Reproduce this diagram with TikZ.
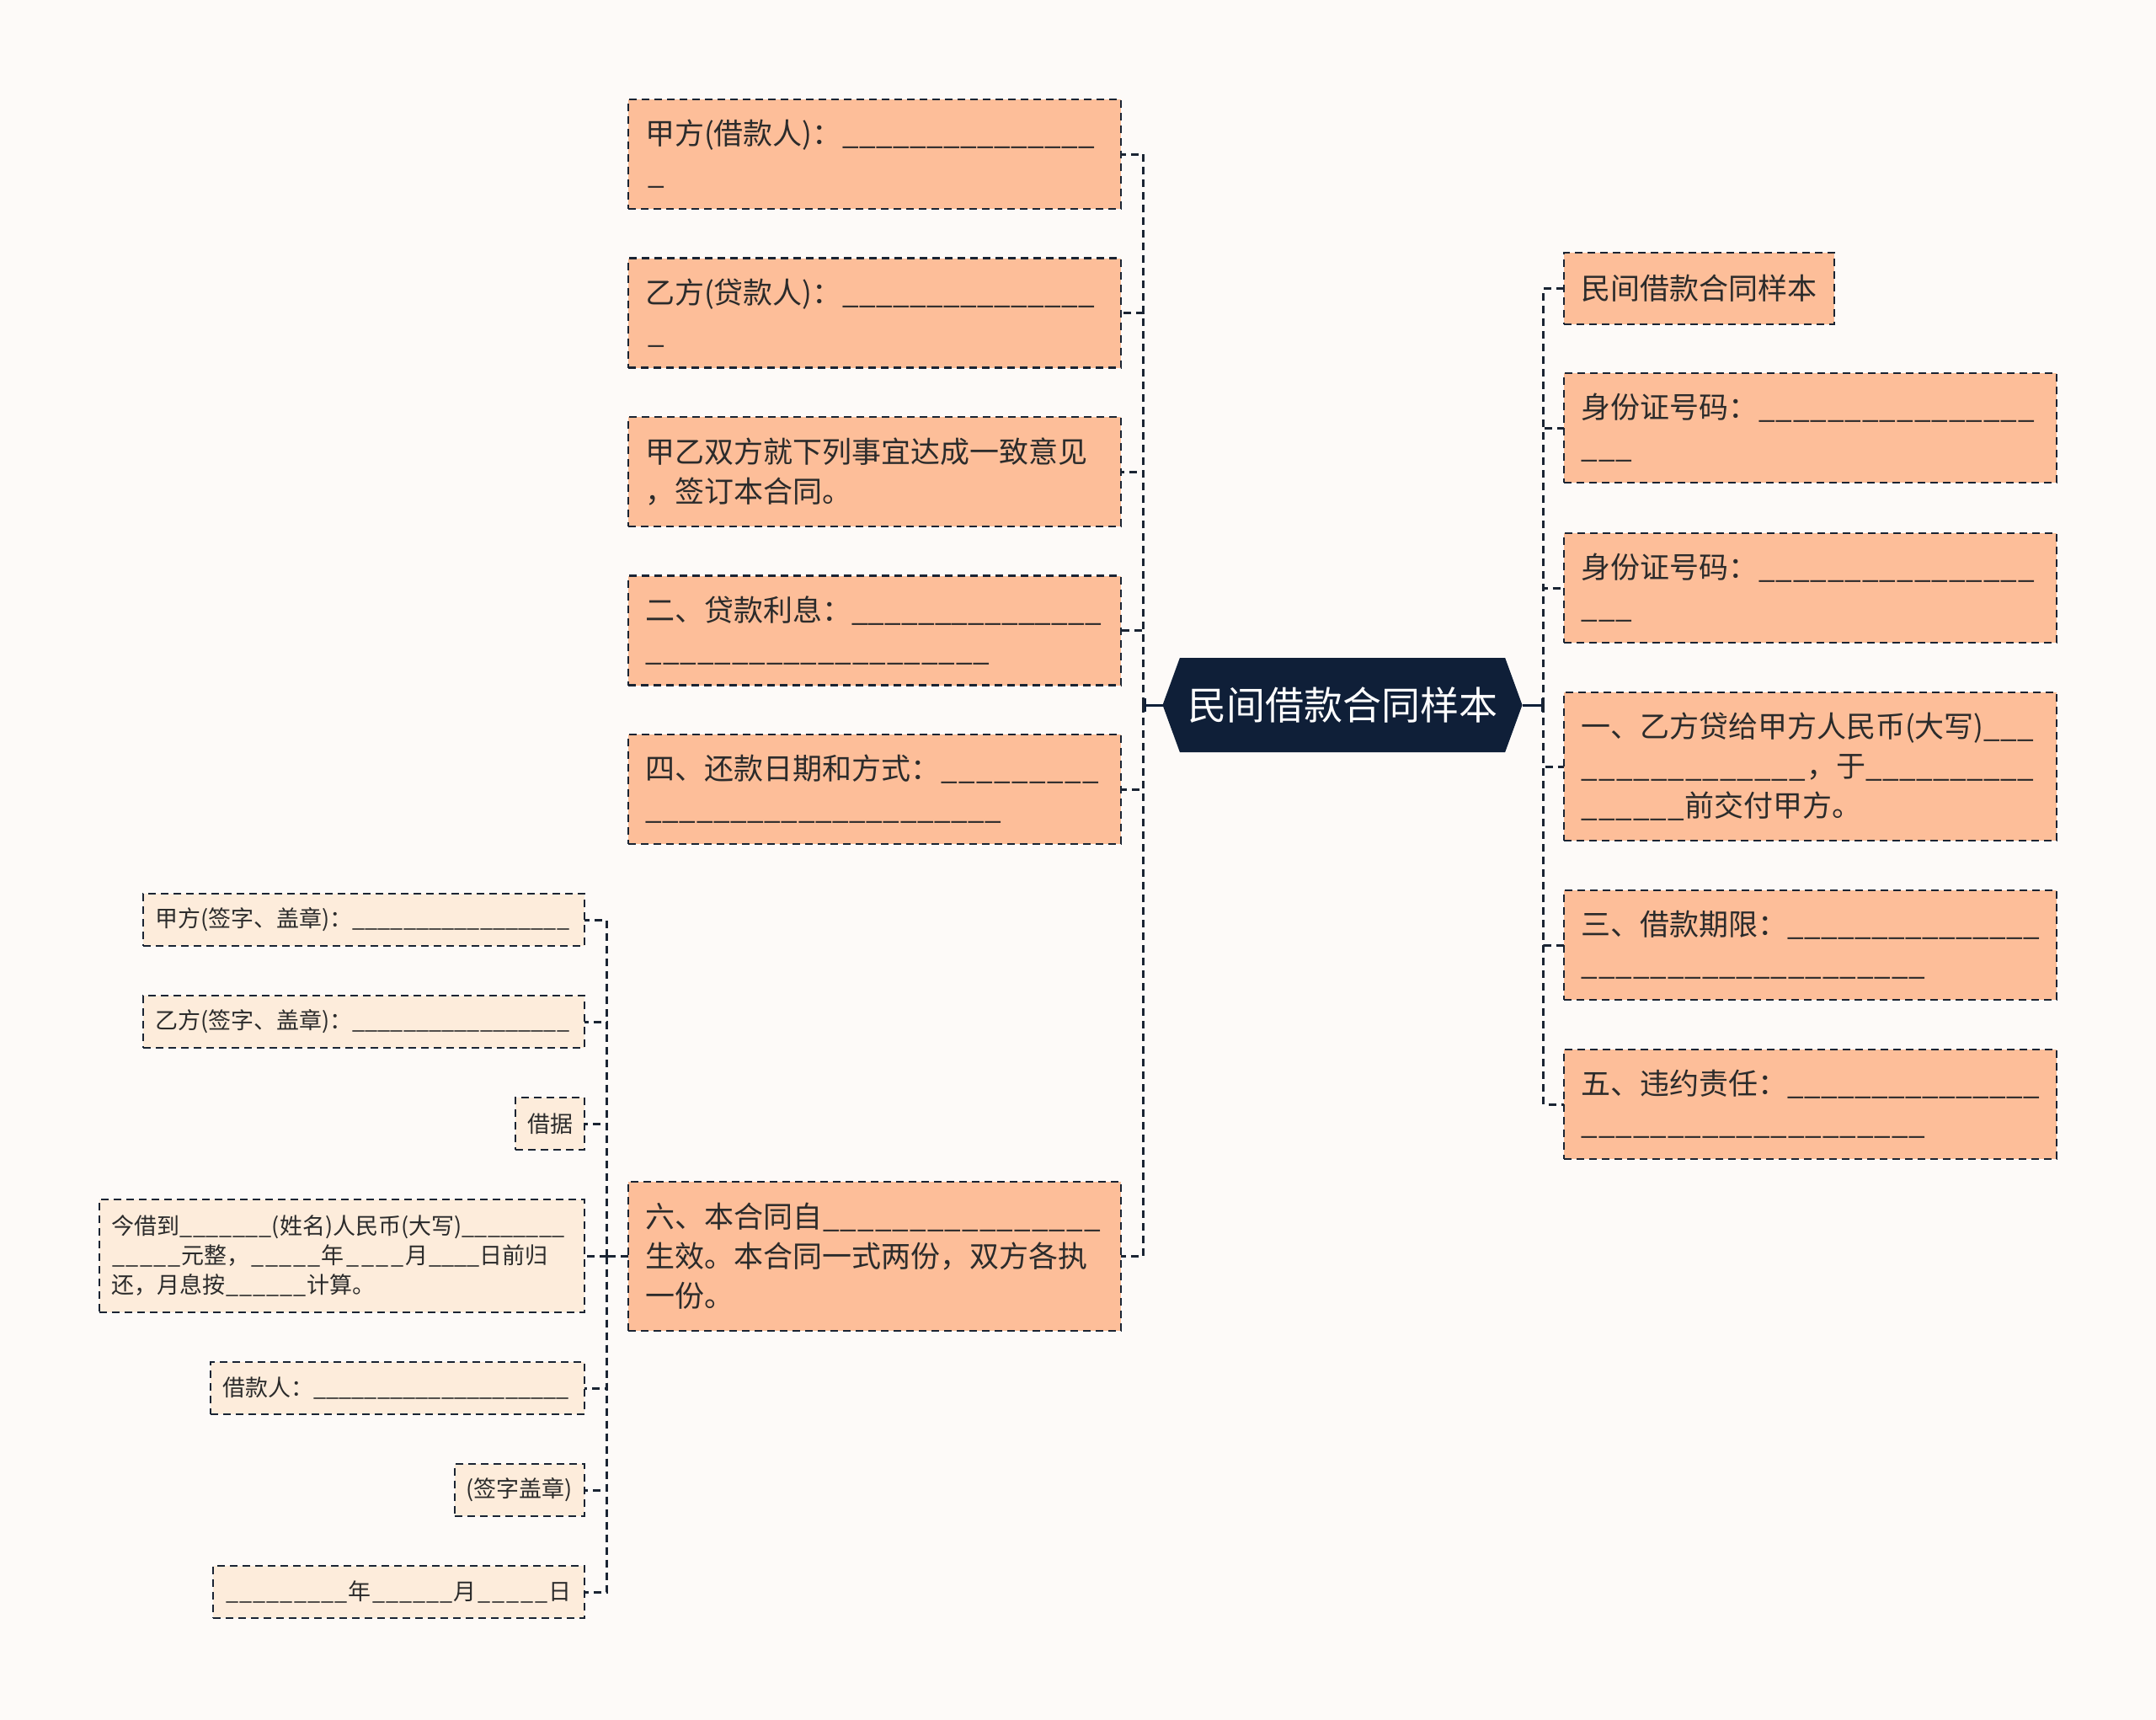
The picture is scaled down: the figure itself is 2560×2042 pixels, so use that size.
\documentclass[tikz,border=0pt]{standalone}
\usepackage{fontspec}
\setmainfont{Noto Sans CJK SC}
\usetikzlibrary{arrows.meta,positioning,shapes.symbols}
\definecolor{bgc}{HTML}{FDFAF8}
\definecolor{peach}{HTML}{FDBE99}
\definecolor{cream}{HTML}{FDECDB}
\definecolor{navy}{HTML}{0F1F38}
\definecolor{ink}{HTML}{1A2433}
\definecolor{txt}{HTML}{2B2B2B}
\newcommand{\blank}[1]{\leavevmode\hbox to #1pt{\xleaders\hbox{\_}\hfill}}

\begin{document}
\begin{tikzpicture}[x=1pt,y=-1pt,node distance=58.5pt, every node/.style={text=txt,outer sep=0pt},
 leaf/.style={draw=ink,line width=2.5pt,dash pattern=on 9pt off 6pt,fill=peach,align=left,text width=545pt,inner xsep=20pt,inner ysep=0pt,minimum height=130pt,font=\fontsize{35}{47}\selectfont},
 sub/.style={draw=ink,line width=2.5pt,dash pattern=on 9pt off 6pt,fill=cream,align=left,inner xsep=14pt,inner ysep=0pt,minimum height=62pt,font=\fontsize{27}{35}\selectfont},
 root/.style={signal,signal to=west and east,signal pointer angle=140,fill=navy,text=white,inner sep=0pt,minimum width=427pt,minimum height=112pt,font=\fontsize{46}{55}\selectfont},
 link/.style={draw=ink,line width=3pt,dash pattern=on 9pt off 6pt},
 stem/.style={draw=navy,line width=3pt,-{Bar[width=16pt,line width=3pt]}}]
\useasboundingbox (0,0) rectangle (2560,2042);
\fill[bgc] (0,0) rectangle (2560,2042);
% root
\node[root] (root) at (1594,837) {民间借款合同样本};
% left branch
\node[leaf,anchor=north west] (ja) at (746,118) {甲方(借款人)：\blank{301}\\\blank{27}};
\node[leaf,below=of ja] (yi) {乙方(贷款人)：\blank{301}\\\blank{27}};
\node[leaf,below=of yi] (both) {甲乙双方就下列事宜达成一致意见\\，签订本合同。};
\node[leaf,below=of both] (rate) {二、贷款利息：\blank{297}\\\blank{410}};
\node[leaf,below=of rate] (repay) {四、还款日期和方式：\blank{190}\\\blank{424}};
\node[leaf,anchor=north west,minimum height=177pt] (term) at (746,1403) {六、本合同自\blank{332}\\生效。本合同一式两份，双方各执\\一份。};
% right branch
\node[leaf,anchor=north west,text width=281pt,minimum height=85pt] (title) at (1857,300) {民间借款合同样本};
\node[leaf,below=58pt of title.south west,anchor=north west] (id1) {身份证号码：\blank{330}\\\blank{62}};
\node[leaf,below=60pt of id1] (id2) {身份证号码：\blank{330}\\\blank{62}};
\node[leaf,below=59pt of id2,minimum height=176pt] (sum) {一、乙方贷给甲方人民币(大写)\blank{60}\\\blank{268}，于\blank{200}\\\blank{124}前交付甲方。};
\node[leaf,below=59pt of sum] (period) {三、借款期限：\blank{301}\\\blank{410}};
\node[leaf,below=59pt of period] (breach) {五、违约责任：\blank{301}\\\blank{410}};
% signatures under term
\node[sub,anchor=north east,text width=496pt] (sa) at (694,1061) {甲方(签字、盖章)：\blank{258}};
\node[sub,below=59pt of sa.south east,anchor=north east,text width=496pt] (sb) {乙方(签字、盖章)：\blank{258}};
\node[sub,below=59pt of sb.south east,anchor=north east] (note) {借据};
\node[sub,below=59pt of note.south east,anchor=north east,text width=548pt,minimum height=134pt] (iou) {今借到\blank{110}(姓名)人民币(大写)\blank{122}\\\blank{84}元整，\blank{85}年\blank{73}月\blank{61}日前归\\还，月息按\blank{98}计算。};
\node[sub,below=59pt of iou.south east,anchor=north east,text width=416pt] (borrower) {借款人：\blank{304}};
\node[sub,below=59pt of borrower.south east,anchor=north east] (seal) {(签字盖章)};
\node[sub,below=59pt of seal.south east,anchor=north east,text width=413pt] (date) {\blank{147}年\blank{98}月\blank{86}日};
% connectors
\coordinate[left=23pt of root.west] (lj);
\draw[stem] (root.west) -- (lj);
\foreach \n in {ja,yi,both,rate,repay,term} \draw[link] (lj) |- (\n.east);
\coordinate[right=25pt of root.east] (rj);
\draw[stem] (root.east) -- (rj);
\foreach \n in {title,id1,id2,sum,period,breach} \draw[link] (rj) |- (\n.west);
\coordinate[left=26pt of term.west] (sj);
\draw[link] (term.west) -- (sj);
\foreach \n in {sa,sb,note,iou,borrower,seal,date} \draw[link] (sj) |- (\n.east);
\end{tikzpicture}
\end{document}
